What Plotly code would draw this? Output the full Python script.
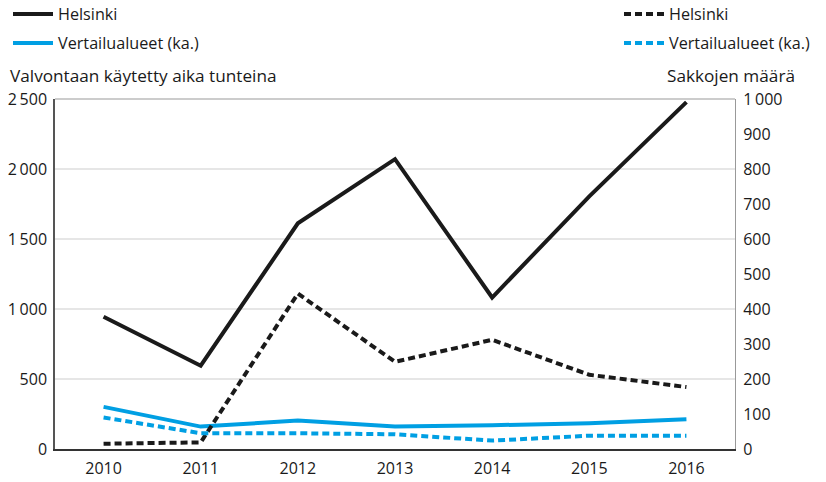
import plotly.graph_objects as go

# Valvonta (tuntia) ja sakot, Helsinki vs vertailualueet
years = ["2010", "2011", "2012", "2013", "2014", "2015", "2016"]

hours_helsinki = [945, 595, 1612, 2070, 1082, 1805, 2478]
hours_vertailu = [301, 160, 203, 160, 170, 184, 213]

fines_helsinki = [15, 19, 444, 249, 312, 212, 177]
fines_vertailu = [90, 45, 45, 42, 24, 38, 38]

left_ticks = [0, 500, 1000, 1500, 2000, 2500]
left_ticktext = ["0", "500", "1\u2009000", "1\u2009500", "2\u2009000", "2\u2009500"]
right_ticks = [0, 100, 200, 300, 400, 500, 600, 700, 800, 900, 1000]
right_ticktext = ["0", "100", "200", "300", "400", "500", "600", "700", "800", "900", "1\u2009000"]

BLACK = "#1a1a1a"
BLUE = "#009fe3"
FONT = "Open Sans"
FS_TICK = 16
FS_LEG = 16.2
FS_TITLE = 17.2

W, H = 826, 482
L, R, T, B = 55, 91, 99, 33
PW, PH = W - L - R, H - T - B

fig = go.Figure()

fig.add_trace(go.Scatter(x=years, y=hours_helsinki, name="Helsinki", mode="lines",
                         line=dict(color=BLACK, width=4), legend="legend", legendgroup="a"))
fig.add_trace(go.Scatter(x=years, y=hours_vertailu, name="Vertailualueet (ka.)", mode="lines",
                         line=dict(color=BLUE, width=4), legend="legend", legendgroup="b"))
fig.add_trace(go.Scatter(x=years, y=fines_helsinki, name="Helsinki", mode="lines", yaxis="y2",
                         line=dict(color=BLACK, width=4, dash="7px,4px"), legend="legend2", legendgroup="c"))
fig.add_trace(go.Scatter(x=years, y=fines_vertailu, name="Vertailualueet (ka.)", mode="lines", yaxis="y2",
                         line=dict(color=BLUE, width=4, dash="7px,4px"), legend="legend2", legendgroup="d"))

fig.update_layout(
    width=W, height=H,
    margin=dict(l=L, r=R, t=T, b=B, autoexpand=False),
    paper_bgcolor="white", plot_bgcolor="white",
    font=dict(family=FONT, size=FS_TICK, color="#1a1a1a"),
    xaxis=dict(type="category", range=[-0.5, 6.5], showgrid=False,
               showline=True, linecolor="#333333", linewidth=2, ticks="",
               automargin=False, ticklabelstandoff=4),
    yaxis=dict(range=[0, 2500], tickvals=left_ticks, ticktext=left_ticktext,
               showgrid=True, gridcolor="#e6e6e6", gridwidth=1.5,
               showline=True, linecolor="#555555", linewidth=1.5,
               zeroline=False, ticks="", ticklabelstandoff=3, automargin=False),
    yaxis2=dict(range=[0, 1000], tickvals=right_ticks, ticktext=right_ticktext,
                overlaying="y", side="right", showgrid=False,
                showline=True, linecolor="#999999", linewidth=1,
                zeroline=False, ticks="", ticklabelstandoff=4, automargin=False),
    legend=dict(x=-(L - 8) / PW, y=1 + (T + 3) / PH,
                xanchor="left", yanchor="top",
                bgcolor="rgba(0,0,0,0)", tracegroupgap=5, itemwidth=40,
                font=dict(size=FS_LEG)),
    legend2=dict(x=(W - L - 11) / PW, y=1 + (T + 3) / PH,
                 xanchor="right", yanchor="top",
                 bgcolor="rgba(0,0,0,0)", tracegroupgap=5, itemwidth=40,
                 font=dict(size=FS_LEG)),
    shapes=[dict(type="line", xref="paper", yref="paper", x0=0, x1=1, y0=1, y1=1,
                 line=dict(color="#999999", width=1))],
    annotations=[
        dict(text="Valvontaan käytetty aika tunteina", xref="paper", yref="paper",
             x=-(L - 8) / PW, y=(449 - 75) / PH, xanchor="left", yanchor="middle",
             showarrow=False, font=dict(size=FS_TITLE)),
        dict(text="Sakkojen määrä", xref="paper", yref="paper",
             x=(797 - L) / PW, y=(449 - 75) / PH, xanchor="right", yanchor="middle",
             showarrow=False, font=dict(size=FS_TITLE)),
    ],
)

# drop the default body margin so the figure fills the window from its corner
fig.write_html("out.html", config={"displayModeBar": False},
               post_script="document.body.style.margin='0px';")
